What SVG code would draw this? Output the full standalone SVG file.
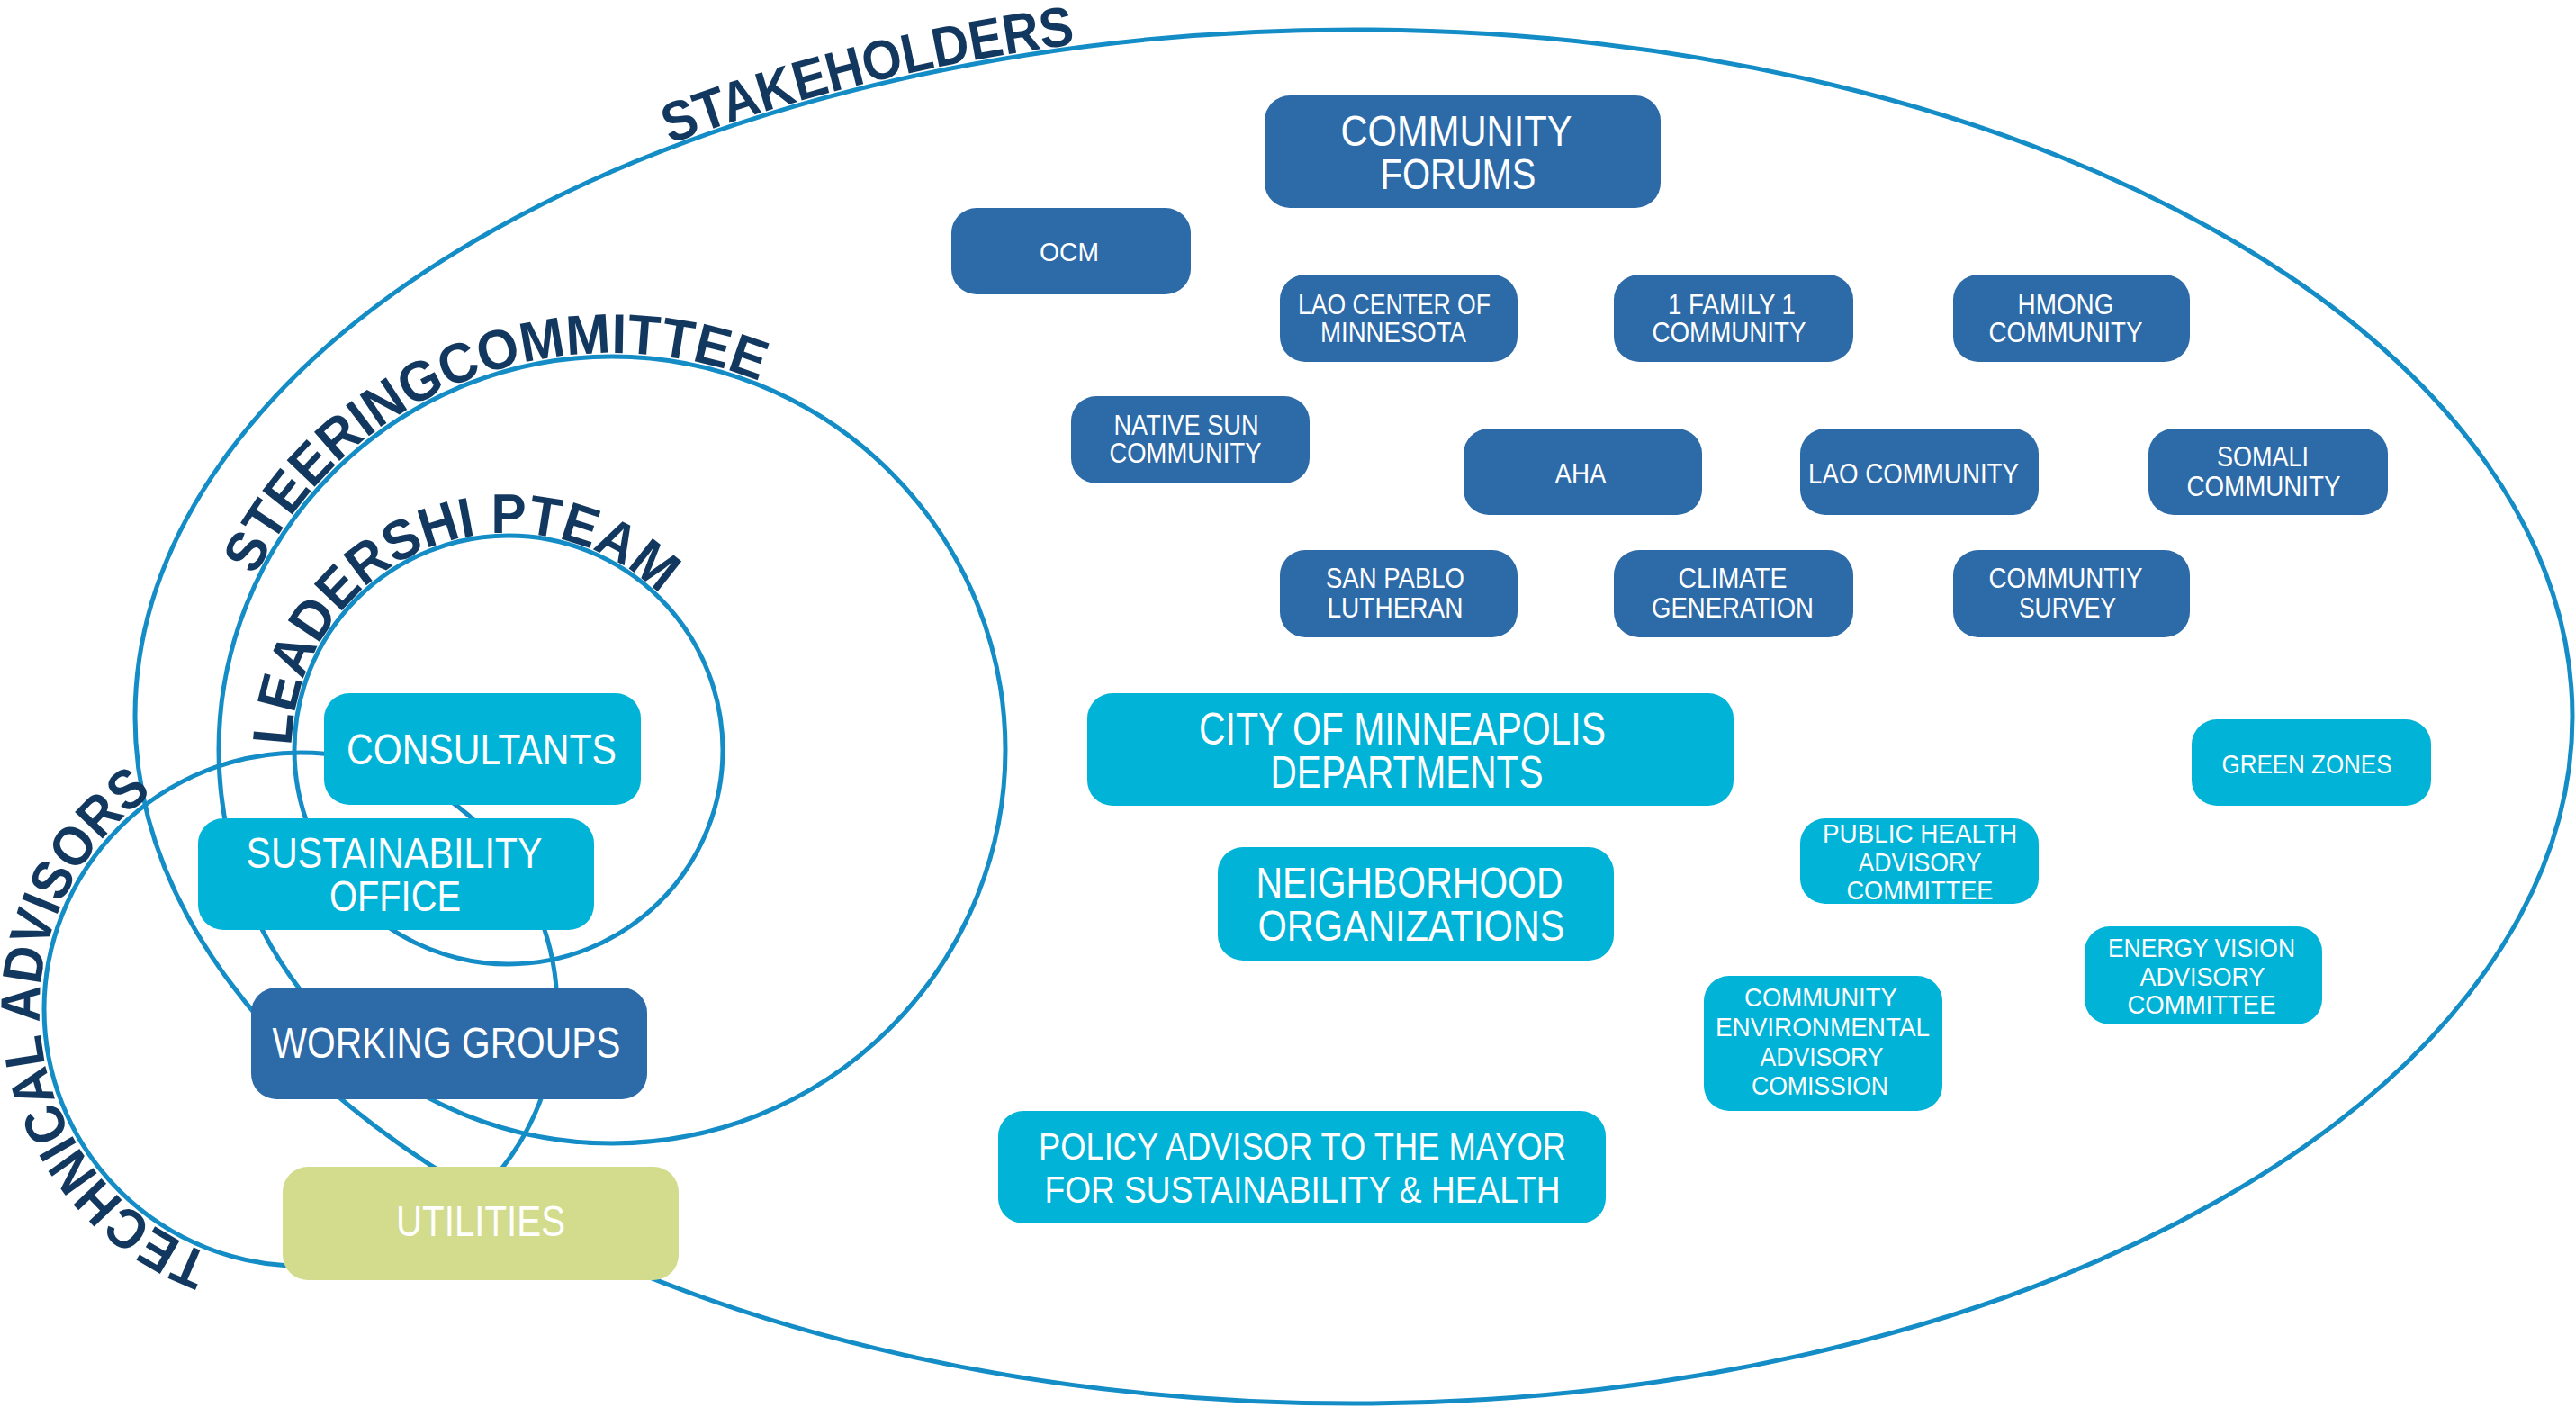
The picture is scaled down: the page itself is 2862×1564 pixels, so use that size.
<svg xmlns="http://www.w3.org/2000/svg" width="2862" height="1564" viewBox="0 0 2862 1564">
<style>
.ring{fill:none;stroke:#148dc6;stroke-width:5}
.dk{fill:#2d6aa8}
.lt{fill:#00b3d7}
.ut{fill:#d3db8c}
.t{font-family:"Liberation Sans",Arial,sans-serif;fill:#ffffff;text-anchor:middle}
.arc{font-family:"Liberation Sans",Arial,sans-serif;font-weight:bold;fill:#13385f;font-size:62px}
</style>
<defs>
<path id="pStake" d="M 744.6 160.1 A 1358 767 0 0 1 1198.5 48.6"/>
<path id="pSteer" d="M 283.6 639.7 A 441 441 0 0 1 845.2 424.1"/>
<path id="pLead" d="M 324 828.8 A 241 241 0 0 1 735.4 662.6"/>
<path id="pTech" d="M 234.8 1393.5 A 290 290 0 0 1 171.8 880.6"/>
</defs>
<rect x="0" y="0" width="2862" height="1564" fill="#ffffff"/>
<g id="connectors">
<ellipse class="ring" cx="1504" cy="796" rx="1354" ry="763"/>
<circle class="ring" cx="680" cy="833" r="437"/>
<circle class="ring" cx="565" cy="833" r="238"/>
<circle class="ring" cx="334" cy="1121" r="285"/>
</g>
<g id="ring-labels">
<text class="arc"><textPath href="#pStake" textLength="465" lengthAdjust="spacingAndGlyphs">STAKEHOLDERS</textPath></text>
<text class="arc"><textPath href="#pSteer" textLength="660" lengthAdjust="spacingAndGlyphs">STEERINGCOMMITTEE</textPath></text>
<text class="arc"><textPath href="#pLead" textLength="560" lengthAdjust="spacingAndGlyphs">LEADERSHI PTEAM</textPath></text>
<text class="arc"><textPath href="#pTech" textLength="635" lengthAdjust="spacingAndGlyphs">TECHNICAL ADVISORS</textPath></text>
</g>
<g id="community-forums"><rect class="dk" x="1405" y="106" width="440" height="125" rx="28"/>
<text class="t" font-size="48" x="1618" y="162" textLength="257" lengthAdjust="spacingAndGlyphs">COMMUNITY</text>
<text class="t" font-size="48" x="1620" y="210" textLength="173" lengthAdjust="spacingAndGlyphs">FORUMS</text></g>
<g id="ocm"><rect class="dk" x="1057" y="231" width="266" height="96" rx="28"/>
<text class="t" font-size="30" x="1188" y="290" textLength="66" lengthAdjust="spacingAndGlyphs">OCM</text></g>
<g id="lao-center"><rect class="dk" x="1422" y="305" width="264" height="97" rx="28"/>
<text class="t" font-size="31" x="1549" y="349" textLength="214" lengthAdjust="spacingAndGlyphs">LAO CENTER OF</text>
<text class="t" font-size="31" x="1548" y="380" textLength="162" lengthAdjust="spacingAndGlyphs">MINNESOTA</text></g>
<g id="one-family"><rect class="dk" x="1793" y="305" width="266" height="97" rx="28"/>
<text class="t" font-size="31" x="1924" y="349" textLength="142" lengthAdjust="spacingAndGlyphs">1 FAMILY 1</text>
<text class="t" font-size="31" x="1921" y="380" textLength="171" lengthAdjust="spacingAndGlyphs">COMMUNITY</text></g>
<g id="hmong"><rect class="dk" x="2170" y="305" width="263" height="97" rx="28"/>
<text class="t" font-size="31" x="2295" y="349" textLength="107" lengthAdjust="spacingAndGlyphs">HMONG</text>
<text class="t" font-size="31" x="2295" y="380" textLength="171" lengthAdjust="spacingAndGlyphs">COMMUNITY</text></g>
<g id="native-sun"><rect class="dk" x="1190" y="440" width="265" height="97" rx="28"/>
<text class="t" font-size="31" x="1318" y="483" textLength="161" lengthAdjust="spacingAndGlyphs">NATIVE SUN</text>
<text class="t" font-size="31" x="1317" y="514" textLength="169" lengthAdjust="spacingAndGlyphs">COMMUNITY</text></g>
<g id="aha"><rect class="dk" x="1626" y="476" width="265" height="96" rx="28"/>
<text class="t" font-size="31" x="1756" y="537" textLength="57" lengthAdjust="spacingAndGlyphs">AHA</text></g>
<g id="lao-community"><rect class="dk" x="2000" y="476" width="265" height="96" rx="28"/>
<text class="t" font-size="31" x="2126" y="537" textLength="234" lengthAdjust="spacingAndGlyphs">LAO COMMUNITY</text></g>
<g id="somali"><rect class="dk" x="2387" y="476" width="266" height="96" rx="28"/>
<text class="t" font-size="31" x="2514" y="518" textLength="102" lengthAdjust="spacingAndGlyphs">SOMALI</text>
<text class="t" font-size="31" x="2515" y="551" textLength="171" lengthAdjust="spacingAndGlyphs">COMMUNITY</text></g>
<g id="san-pablo"><rect class="dk" x="1422" y="611" width="264" height="97" rx="28"/>
<text class="t" font-size="31" x="1550" y="653" textLength="154" lengthAdjust="spacingAndGlyphs">SAN PABLO</text>
<text class="t" font-size="31" x="1550" y="686" textLength="151" lengthAdjust="spacingAndGlyphs">LUTHERAN</text></g>
<g id="climate"><rect class="dk" x="1793" y="611" width="266" height="97" rx="28"/>
<text class="t" font-size="31" x="1925" y="653" textLength="121" lengthAdjust="spacingAndGlyphs">CLIMATE</text>
<text class="t" font-size="31" x="1925" y="686" textLength="180" lengthAdjust="spacingAndGlyphs">GENERATION</text></g>
<g id="survey"><rect class="dk" x="2170" y="611" width="263" height="97" rx="28"/>
<text class="t" font-size="31" x="2295" y="653" textLength="171" lengthAdjust="spacingAndGlyphs">COMMUNTIY</text>
<text class="t" font-size="31" x="2297" y="686" textLength="108" lengthAdjust="spacingAndGlyphs">SURVEY</text></g>
<g id="city"><rect class="lt" x="1208" y="770" width="718" height="125" rx="28"/>
<text class="t" font-size="50" x="1558" y="827" textLength="452" lengthAdjust="spacingAndGlyphs">CITY OF MINNEAPOLIS</text>
<text class="t" font-size="50" x="1563" y="875" textLength="303" lengthAdjust="spacingAndGlyphs">DEPARTMENTS</text></g>
<g id="green-zones"><rect class="lt" x="2435" y="799" width="266" height="96" rx="28"/>
<text class="t" font-size="30" x="2563" y="859" textLength="189" lengthAdjust="spacingAndGlyphs">GREEN ZONES</text></g>
<g id="public-health"><rect class="lt" x="2000" y="909" width="265" height="95" rx="28"/>
<text class="t" font-size="30" x="2133" y="936" textLength="216" lengthAdjust="spacingAndGlyphs">PUBLIC HEALTH</text>
<text class="t" font-size="30" x="2133" y="968" textLength="137" lengthAdjust="spacingAndGlyphs">ADVISORY</text>
<text class="t" font-size="30" x="2133" y="999" textLength="163" lengthAdjust="spacingAndGlyphs">COMMITTEE</text></g>
<g id="neighborhood"><rect class="lt" x="1353" y="941" width="440" height="126" rx="28"/>
<text class="t" font-size="48" x="1566" y="997" textLength="341" lengthAdjust="spacingAndGlyphs">NEIGHBORHOOD</text>
<text class="t" font-size="48" x="1568" y="1045" textLength="341" lengthAdjust="spacingAndGlyphs">ORGANIZATIONS</text></g>
<g id="energy-vision"><rect class="lt" x="2316" y="1029" width="264" height="109" rx="28"/>
<text class="t" font-size="30" x="2446" y="1063" textLength="208" lengthAdjust="spacingAndGlyphs">ENERGY VISION</text>
<text class="t" font-size="30" x="2447" y="1095" textLength="139" lengthAdjust="spacingAndGlyphs">ADVISORY</text>
<text class="t" font-size="30" x="2446" y="1126" textLength="165" lengthAdjust="spacingAndGlyphs">COMMITTEE</text></g>
<g id="ceac"><rect class="lt" x="1893" y="1084" width="265" height="150" rx="28"/>
<text class="t" font-size="30" x="2023" y="1118" textLength="170" lengthAdjust="spacingAndGlyphs">COMMUNITY</text>
<text class="t" font-size="30" x="2025" y="1151" textLength="238" lengthAdjust="spacingAndGlyphs">ENVIRONMENTAL</text>
<text class="t" font-size="30" x="2024" y="1184" textLength="137" lengthAdjust="spacingAndGlyphs">ADVISORY</text>
<text class="t" font-size="30" x="2022" y="1216" textLength="152" lengthAdjust="spacingAndGlyphs">COMISSION</text></g>
<g id="policy"><rect class="lt" x="1109" y="1234" width="675" height="125" rx="28"/>
<text class="t" font-size="43" x="1447" y="1288" textLength="586" lengthAdjust="spacingAndGlyphs">POLICY ADVISOR TO THE MAYOR</text>
<text class="t" font-size="43" x="1447" y="1336" textLength="573" lengthAdjust="spacingAndGlyphs">FOR SUSTAINABILITY &amp; HEALTH</text></g>
<g id="consultants"><rect class="lt" x="360" y="770" width="352" height="124" rx="28"/>
<text class="t" font-size="48" x="535" y="849" textLength="300" lengthAdjust="spacingAndGlyphs">CONSULTANTS</text></g>
<g id="sustainability"><rect class="lt" x="220" y="909" width="440" height="124" rx="28"/>
<text class="t" font-size="48" x="438" y="964" textLength="329" lengthAdjust="spacingAndGlyphs">SUSTAINABILITY</text>
<text class="t" font-size="48" x="439" y="1012" textLength="146" lengthAdjust="spacingAndGlyphs">OFFICE</text></g>
<g id="working-groups"><rect class="dk" x="279" y="1097" width="440" height="124" rx="28"/>
<text class="t" font-size="48" x="496" y="1175" textLength="387" lengthAdjust="spacingAndGlyphs">WORKING GROUPS</text></g>
<g id="utilities"><rect class="ut" x="314" y="1296" width="440" height="126" rx="28"/>
<text class="t" font-size="48" x="534" y="1373" textLength="188" lengthAdjust="spacingAndGlyphs">UTILITIES</text></g>
</svg>
